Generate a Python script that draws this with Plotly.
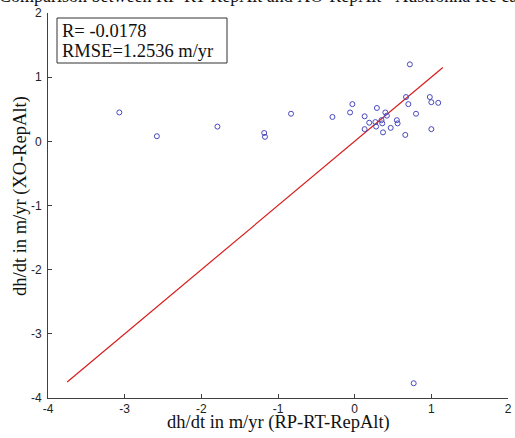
import plotly.graph_objects as go

# data
x_rp = [-3.07, -2.58, -1.79, -1.18, -1.17, -0.83, -0.29, -0.03, -0.06, 0.13, 0.29, 0.40, 0.42,
        0.19, 0.13, 0.27, 0.28, 0.35, 0.36, 0.37, 0.47, 0.55, 0.56, 0.66, 0.67, 0.70, 0.72,
        0.80, 0.98, 1.00, 1.09, 1.00, 0.77]
y_xo = [0.45, 0.08, 0.23, 0.13, 0.07, 0.43, 0.38, 0.58, 0.45, 0.39, 0.52, 0.45, 0.40,
        0.29, 0.19, 0.30, 0.23, 0.33, 0.28, 0.14, 0.21, 0.33, 0.28, 0.10, 0.69, 0.58, 1.20,
        0.43, 0.69, 0.61, 0.60, 0.19, -3.77]
line_x = [-3.75, 1.15]
line_y = [-3.75, 1.15]
x_ticks = [-4, -3, -2, -1, 0, 1, 2]
y_ticks = [-4, -3, -2, -1, 0, 1, 2]
title_text = "Comparison between RP-RT-RepAlt and XO-RepAlt - Austfonna Ice cap"
x_title = "dh/dt in m/yr (RP-RT-RepAlt)"
y_title = "dh/dt in m/yr (XO-RepAlt)"
stats_lines = ["R= -0.0178", "RMSE=1.2536 m/yr"]

serif = "Liberation Serif, Times New Roman, serif"
sans = "Liberation Sans, Arial, sans-serif"

# layout in pixels
W, H = 515, 438
L, R, T, B = 48, 7, 13, 40
PW, PH = W - L - R, H - T - B


def px_x(p):
    return (p - L) / PW


def px_y(p):
    return 1 - (p - T) / PH


fig = go.Figure()
fig.add_trace(go.Scatter(x=line_x, y=line_y, mode="lines",
                         line=dict(color="#d91c1c", width=1.2), showlegend=False))
fig.add_trace(go.Scatter(x=x_rp, y=y_xo, mode="markers",
                         marker=dict(symbol="circle-open", size=5, color="#4848c0",
                                     line=dict(width=1, color="#4848c0")),
                         showlegend=False, cliponaxis=False))

axis_common = dict(showgrid=False, zeroline=False, showline=True, linecolor="#404040",
                   linewidth=1, ticks="inside", ticklen=4, tickcolor="#404040",
                   tickfont=dict(family=sans, size=12, color="#222"),
                   mirror=False, automargin=False, ticklabeloverflow="allow")
fig.update_xaxes(range=[-4, 2], tickvals=x_ticks, ticktext=[str(v) for v in x_ticks],
                 **axis_common)
fig.update_yaxes(range=[-4, 2], tickvals=y_ticks, ticktext=[str(v) for v in y_ticks],
                 ticklabelstandoff=3, **axis_common)

fig.add_annotation(xref="paper", yref="paper", x=px_x(-3), y=px_y(-3.5),
                   xanchor="left", yanchor="middle", text=title_text, showarrow=False,
                   font=dict(family=serif, size=18, color="#111"))
fig.add_annotation(xref="paper", yref="paper", x=px_x(278), y=px_y(422),
                   xanchor="center", yanchor="middle", text=x_title, showarrow=False,
                   font=dict(family=serif, size=18.5, color="#111"))
fig.add_annotation(xref="paper", yref="paper", x=px_x(20), y=px_y(196),
                   xanchor="center", yanchor="middle", text=y_title, showarrow=False,
                   textangle=-90, font=dict(family=serif, size=18.5, color="#111"))

# stats box
fig.add_shape(type="rect", xref="paper", yref="paper",
              x0=px_x(57), x1=px_x(227), y0=px_y(63), y1=px_y(18),
              line=dict(color="#333", width=1), fillcolor="white", layer="above")
for i, s in enumerate(stats_lines):
    fig.add_annotation(xref="paper", yref="paper", x=px_x(60), y=px_y(31 + 20 * i),
                       xanchor="left", yanchor="middle", text=s, showarrow=False,
                       font=dict(family=serif, size=18.5, color="#111"))

fig.update_layout(width=W, height=H, margin=dict(l=L, r=R, t=T, b=B),
                  plot_bgcolor="white", paper_bgcolor="white")
fig.write_html("out.html", config={"displayModeBar": False},
               post_script="document.body.style.margin='0';document.body.style.overflow='hidden';")
